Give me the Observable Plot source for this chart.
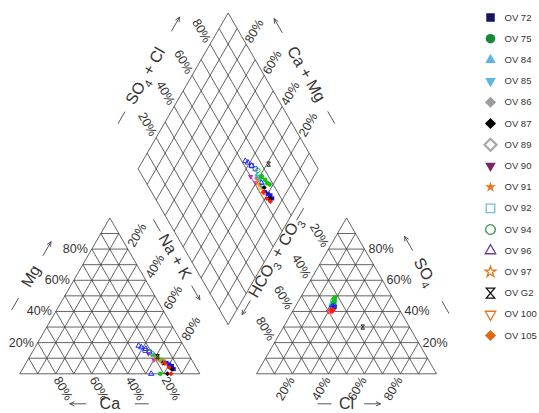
<!DOCTYPE html>
<html>
<head>
<meta charset="utf-8">
<script src="https://cdn.jsdelivr.net/npm/d3@7"></script>
<script src="https://cdn.jsdelivr.net/npm/@observablehq/plot@0.6"></script>
<style>
  body { margin: 0; background: #fff; }
  #chart { width: 539px; height: 413px; }
</style>
</head>
<body>
<div id="chart"></div>
<script>
// Wells shown in the legend, in legend order
const wells = ["OV 72", "OV 75", "OV 84", "OV 85", "OV 86", "OV 87", "OV 89", "OV 90",
               "OV 91", "OV 92", "OV 94", "OV 96", "OV 97", "OV G2", "OV 100", "OV 105"];

// Samples: well and major-ion composition, percent of total meq/L
const sampleWell = ["OV 96", "OV 96", "OV 96", "OV 96", "OV 92", "OV 92", "OV 90", "OV 90",
                    "OV 94", "OV 94", "OV 89", "OV 86", "OV 84", "OV 84", "OV 85", "OV 85",
                    "OV 75", "OV 75", "OV 75", "OV 75", "OV 97", "OV 91", "OV 91", "OV 100",
                    "OV 87", "OV 87", "OV 87", "OV 105", "OV 105", "OV 105", "OV 72", "OV 72",
                    "OV 72", "OV 72", "OV G2"];
const ca   = [24, 22, 27, 25, 23, 21, 22, 21, 20, 19, 20, 19, 19, 20, 17, 18, 18, 17, 22, 16, 19, 18, 16, 17, 17, 18, 14, 16, 15, 16, 14, 13, 15, 13, 18];
const mg   = [17, 16,  0, 18, 15, 14, 13,  9, 13, 10, 11, 12, 10, 12,  8,  9, 11,  9,  0,  8, 10,  9,  6,  8,  7,  0,  3,  7,  4,  0,  6,  3,  7,  5, 11];
const naK  = [59, 62, 73, 57, 62, 65, 65, 70, 67, 71, 69, 69, 71, 68, 75, 73, 71, 74, 78, 76, 71, 73, 78, 75, 76, 82, 83, 77, 81, 84, 80, 84, 78, 82, 71];
const hco3 = [37, 36, 36, 38, 36, 35, 40, 39, 34, 34, 37, 37, 36, 36, 37, 37, 34, 33, 32, 33, 38, 38, 38, 39, 36, 37, 36, 38, 38, 37, 36, 35, 37, 35, 26];
const so4  = [42, 43, 43, 42, 43, 44, 40, 40, 47, 46, 41, 42, 44, 45, 43, 42, 46, 48, 49, 47, 41, 40, 41, 40, 43, 42, 42, 41, 40, 41, 43, 44, 42, 43, 30];
const cl   = [21, 21, 21, 20, 21, 21, 20, 21, 19, 20, 22, 21, 20, 19, 20, 21, 20, 19, 19, 20, 21, 22, 21, 21, 21, 21, 22, 21, 22, 22, 21, 21, 21, 22, 44];

// Grid divisions and labelled percentages
const gridSteps = [0, 10, 20, 30, 40, 50, 60, 70, 80, 90, 100];
const tickValues = [20, 40, 60, 80];

// ---- Piper geometry (unit = side of a triangle) ----
const H = Math.sqrt(3) / 2;
const GAP = 0.315;           // gap between the two triangles
const UNIT = 180;            // pixels per triangle side
const X0 = 19.3, Y0 = 373.3; // pixel position of the cation triangle's left corner
const W = 539, HT = 413;

const cation = (c, m, n) => [n / 100 + m / 200, (m / 100) * H];
const anion = (b, s, l) => [1 + GAP + l / 100 + s / 200, (s / 100) * H];
const BOTTOM = [1 + GAP / 2, GAP * H];
const diamond = (n, a) => {
  const cm = 1 - n / 100, an = a / 100;
  return [BOTTOM[0] + 0.5 * an - 0.5 * cm, BOTTOM[1] + H * (an + cm)];
};
const fromPx = (px, py) => [(px - X0) / UNIT, (Y0 - py) / UNIT];

// ---- Marker styles ----
const triangleDown = {
  draw(ctx, size) {
    const y = -Math.sqrt(size / (Math.sqrt(3) * 3));
    ctx.moveTo(0, -y * 2);
    ctx.lineTo(-Math.sqrt(3) * y, y);
    ctx.lineTo(Math.sqrt(3) * y, y);
    ctx.closePath();
  }
};
const hourglass = {
  draw(ctx, size) {
    const r = Math.sqrt(size) / 2;
    const w = r * 0.85;
    ctx.moveTo(-w, -r);
    ctx.lineTo(w, -r);
    ctx.lineTo(-w, r);
    ctx.lineTo(w, r);
    ctx.closePath();
  }
};
const S = {sq: d3.symbolSquare, ci: d3.symbolCircle, tu: d3.symbolTriangle, td: triangleDown,
           di: d3.symbolDiamond2, st: d3.symbolStar, hg: hourglass};
// symbol, filled?, legend colour, point colour
const style = {
  "OV 72":  [S.sq, true,  "#16165e", "#1414e6"],
  "OV 75":  [S.ci, true,  "#17893a", "#12c21a"],
  "OV 84":  [S.tu, true,  "#5cb5e6", "#22c4e0"],
  "OV 85":  [S.td, true,  "#5cb5e6", "#22c4e0"],
  "OV 86":  [S.di, true,  "#9c9c9c", "#8c8c8c"],
  "OV 87":  [S.di, true,  "#000000", "#000000"],
  "OV 89":  [S.di, false, "#a8a8a8", "#9a9a9a"],
  "OV 90":  [S.td, true,  "#7b2468", "#e01ed0"],
  "OV 91":  [S.st, true,  "#e5781e", "#ff8400"],
  "OV 92":  [S.sq, false, "#6dbde0", "#2a3cff"],
  "OV 94":  [S.ci, false, "#2f8f4d", "#12c21a"],
  "OV 96":  [S.tu, false, "#6b3f96", "#1e2cff"],
  "OV 97":  [S.st, false, "#e5781e", "#ff8400"],
  "OV G2":  [S.hg, false, "#111111", "#222222"],
  "OV 100": [S.td, false, "#e5781e", "#ff8400"],
  "OV 105": [S.di, true,  "#e0680f", "#ff1a10"]
};
// marker radius per symbol kind (legend, points)
const symbolRadius = symbol =>
  symbol === S.st ? [3.4, 1.6] :
  symbol === S.di ? [5, 2.3] :
  symbol === S.hg ? [5.6, 2.4] :
  symbol === S.tu || symbol === S.td ? [3.9, 2.0] : [4.8, 2.3];

// ---- Grid segments built from compositions ----
const segs = [];
for (const t of gridSteps) {
  const u = 100 - t;
  segs.push([cation(u, t, 0), cation(0, t, u)]);
  segs.push([cation(t, u, 0), cation(t, 0, u)]);
  segs.push([cation(u, 0, t), cation(0, u, t)]);
  segs.push([anion(u, t, 0), anion(0, t, u)]);
  segs.push([anion(t, u, 0), anion(t, 0, u)]);
  segs.push([anion(u, 0, t), anion(0, u, t)]);
  segs.push([diamond(0, t), diamond(100, t)]);
  segs.push([diamond(u, 0), diamond(u, 100)]);
}

// ---- Percentage labels along each edge ----
const labelGroups = [
  {pos: v => cation(100 - v, v, 0), textAnchor: "end",   rotate: 0,   dx: -4,  dy: 0},
  {pos: v => cation(0, 100 - v, v), textAnchor: "start", rotate: -60, dx: 3,   dy: -3},
  {pos: v => cation(v, 0, 100 - v), textAnchor: "start", rotate: 60,  dx: 1,   dy: 4},
  {pos: v => anion(100 - v, 0, v),  textAnchor: "end",   rotate: -60, dx: -1,  dy: 4},
  {pos: v => anion(v, 100 - v, 0),  textAnchor: "end",   rotate: 60,  dx: -3,  dy: -3},
  {pos: v => anion(0, v, 100 - v),  textAnchor: "start", rotate: 0,   dx: 4,   dy: 0},
  {pos: v => diamond(0, v),         textAnchor: "end",   rotate: 60,  dx: -2.5, dy: -2.5},
  {pos: v => diamond(100 - v, 100), textAnchor: "start", rotate: -60, dx: 2,   dy: -2}
];

// ---- Axis titles with direction arrows (offsets in pixels) ----
const titles = [
  {label: "Mg",         p1: cation(100, 0, 0), p2: cation(0, 100, 0), inside: cation(33, 33, 34), t: 0,   dash: -32, arrow: 32, off: 39, rotate: -60},
  {label: "Na + K",     p1: cation(0, 100, 0), p2: cation(0, 0, 100), inside: cation(33, 33, 34), t: -24, dash: -60, arrow: 18, off: 37, rotate: 60},
  {label: "Ca",         p1: cation(0, 0, 100), p2: cation(100, 0, 0), inside: cation(33, 33, 34), t: 0,   dash: -32, arrow: 32, off: 30, rotate: 0},
  {label: "Cl",         p1: anion(100, 0, 0),  p2: anion(0, 0, 100),  inside: anion(33, 33, 34),  t: 0,   dash: -22, arrow: 26, off: 30, rotate: 0},
  {label: "SO4",        p1: anion(0, 0, 100),  p2: anion(0, 100, 0),  inside: anion(33, 33, 34),  t: 4,   dash: -37, arrow: 37, off: 41, rotate: 60},
  {label: "HCO3 + CO3", p1: anion(0, 100, 0),  p2: anion(100, 0, 0),  inside: anion(33, 33, 34),  t: -20, dash: -70, arrow: 38, off: 42, rotate: -60},
  {label: "SO4 + Cl",   p1: diamond(0, 0),     p2: diamond(0, 100),   inside: diamond(50, 50),    t: -6,  dash: -54, arrow: 54, off: 40, rotate: -60},
  {label: "Ca + Mg",    p1: diamond(100, 100), p2: diamond(0, 100),   inside: diamond(50, 50),    t: -2,  dash: -52, arrow: 54, off: 37, rotate: 60}
];
function edgeFrame(d) {
  const ex = d.p2[0] - d.p1[0], ey = d.p2[1] - d.p1[1], len = Math.hypot(ex, ey);
  const e = [ex / len, ey / len];
  const mid = [(d.p1[0] + d.p2[0]) / 2, (d.p1[1] + d.p2[1]) / 2];
  let n = [-e[1], e[0]];
  if (n[0] * (mid[0] - d.inside[0]) + n[1] * (mid[1] - d.inside[1]) < 0) n = [-n[0], -n[1]];
  return (a, o) => [mid[0] + (e[0] * a + n[0] * o) / UNIT, mid[1] + (e[1] * a + n[1] * o) / UNIT];
}
const titleMarks = [], dashSegs = [], arrowSegs = [];
for (const d of titles) {
  const at = edgeFrame(d);
  titleMarks.push({label: d.label, p: at(d.t, d.off), rotate: d.rotate});
  dashSegs.push([at(d.dash - 7, d.off), at(d.dash + 7, d.off)]);
  arrowSegs.push([at(d.arrow - 8, d.off), at(d.arrow + 8, d.off)]);
}

// ---- Marks ----
const ink = "#333";
const lineColor = "#3c3c3c";
const marks = [
  Plot.link(segs, {x1: d => d[0][0], y1: d => d[0][1], x2: d => d[1][0], y2: d => d[1][1],
                   stroke: lineColor, strokeWidth: 0.8})
];
for (const g of labelGroups) {
  marks.push(Plot.text(tickValues, {
    x: v => g.pos(v)[0], y: v => g.pos(v)[1], text: v => `${v}%`,
    textAnchor: g.textAnchor, rotate: g.rotate, dx: g.dx, dy: g.dy,
    fontSize: 12.5, fill: ink
  }));
}
marks.push(
  Plot.text(titleMarks, {x: d => d.p[0], y: d => d.p[1], text: "label", rotate: "rotate",
                         fontSize: 16, fill: ink}),
  Plot.link(dashSegs, {x1: d => d[0][0], y1: d => d[0][1], x2: d => d[1][0], y2: d => d[1][1],
                       stroke: "#555", strokeWidth: 1}),
  Plot.arrow(arrowSegs, {x1: d => d[0][0], y1: d => d[0][1], x2: d => d[1][0], y2: d => d[1][1],
                         stroke: "#555", strokeWidth: 1, headLength: 7, headAngle: 50})
);

// Sample points in the three fields
const idx = d3.range(sampleWell.length);
const panels = [
  i => cation(ca[i], mg[i], naK[i]),
  i => anion(hco3[i], so4[i], cl[i]),
  i => diamond(naK[i], so4[i] + cl[i])
];
for (const pos of panels) {
  for (const w of wells) {
    const [symbol, filled, , pc] = style[w];
    marks.push(Plot.dot(idx.filter(i => sampleWell[i] === w), {
      x: i => pos(i)[0], y: i => pos(i)[1], symbol, r: symbolRadius(symbol)[1],
      fill: filled ? pc : "none", stroke: filled ? "none" : pc, strokeWidth: 1
    }));
  }
}

// Legend
const LEG_X = 490, LEG_TEXT_X = 504, LEG_TOP = 17, LEG_STEP = 21.2;
wells.forEach((w, k) => {
  const [symbol, filled, lc] = style[w];
  const p = fromPx(LEG_X, LEG_TOP + k * LEG_STEP);
  const big = w === "OV 89";
  marks.push(Plot.dot([w], {
    x: () => p[0], y: () => p[1], symbol,
    r: symbolRadius(symbol)[0] + (big ? 0.4 : 0),
    fill: filled ? lc : "white", stroke: filled ? "none" : lc, strokeWidth: big ? 2.2 : 1.3
  }));
});
marks.push(Plot.text(wells, {
  x: () => fromPx(LEG_TEXT_X, 0)[0],
  y: (w, k) => fromPx(0, LEG_TOP + k * LEG_STEP)[1],
  text: d => d, textAnchor: "start", fontSize: 9.5, fill: ink
}));

const chart = Plot.plot({
  width: W, height: HT, margin: 0,
  x: {domain: [-X0 / UNIT, (W - X0) / UNIT], range: [0, W], axis: null},
  y: {domain: [-(HT - Y0) / UNIT, Y0 / UNIT], range: [HT, 0], axis: null},
  style: {fontFamily: "'Liberation Sans', Arial, sans-serif", background: "white", overflow: "visible"},
  marks
});

// Chemical formula subscripts (SO4, CO3)
chart.querySelectorAll("text").forEach(t => {
  const s = t.textContent;
  if (!/(SO|CO)\d/.test(s)) return;
  while (t.firstChild) t.removeChild(t.firstChild);
  let lowered = false;
  for (const part of s.split(/(\d)/)) {
    if (!part) continue;
    const ts = document.createElementNS("http://www.w3.org/2000/svg", "tspan");
    ts.textContent = part;
    if (/^\d$/.test(part)) {
      ts.setAttribute("font-size", "11");
      ts.setAttribute("dy", "5");
      lowered = true;
    } else if (lowered) {
      ts.setAttribute("dy", "-5");
      lowered = false;
    }
    t.appendChild(ts);
  }
});

document.getElementById("chart").appendChild(chart);
</script>
</body>
</html>
